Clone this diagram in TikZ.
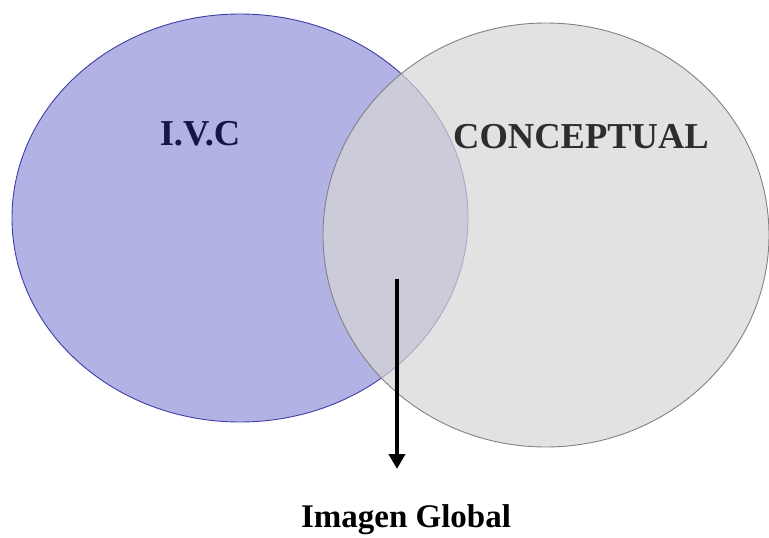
\documentclass[tikz,border=0pt]{standalone}
\usepackage{fontspec}
\setmainfont{Liberation Serif}
\usetikzlibrary{shapes.geometric,arrows.meta}
\definecolor{ivcfill}{RGB}{178,178,228}
\definecolor{ivcline}{RGB}{62,62,170}
\definecolor{confill}{RGB}{214,214,214}
\definecolor{conline}{RGB}{130,130,130}
\definecolor{ivctext}{RGB}{22,22,66}
\definecolor{context}{RGB}{45,45,45}
\tikzset{
  set/.style={ellipse, inner sep=0pt, line width=0.9pt},
  title/.style={font=\fontsize{36.5}{42}\selectfont\bfseries, anchor=base, inner sep=0pt},
  pointer/.style={line width=4pt, -{Triangle[length=15pt,width=16pt]}}
}
\begin{document}
\begin{tikzpicture}[x=1pt,y=-1pt]
  \useasboundingbox (0,0) rectangle (769,538);
  % the two overlapping sets
  \node[set, draw=ivcline, fill=ivcfill, minimum width=456pt, minimum height=408pt] (ivc) at (240,218) {};
  \node[set, draw=conline, fill=confill, fill opacity=0.7, minimum width=446pt, minimum height=424pt] (conc) at (546,235) {};
  % set names
  \node[title, text=ivctext] (ivclbl) at (200,145) {I.V.C};
  \node[title, text=context] (conclbl) at (581,148) {CONCEPTUAL};
  % result of the intersection
  \node[font=\fontsize{33}{40}\selectfont\bfseries, anchor=base, inner sep=0pt] (glob) at (406,527) {Imagen Global};
  \coordinate (s) at (397,279);
  \coordinate (e) at (397,469);
  \draw[pointer] (s) -- (e);
\end{tikzpicture}
\end{document}
